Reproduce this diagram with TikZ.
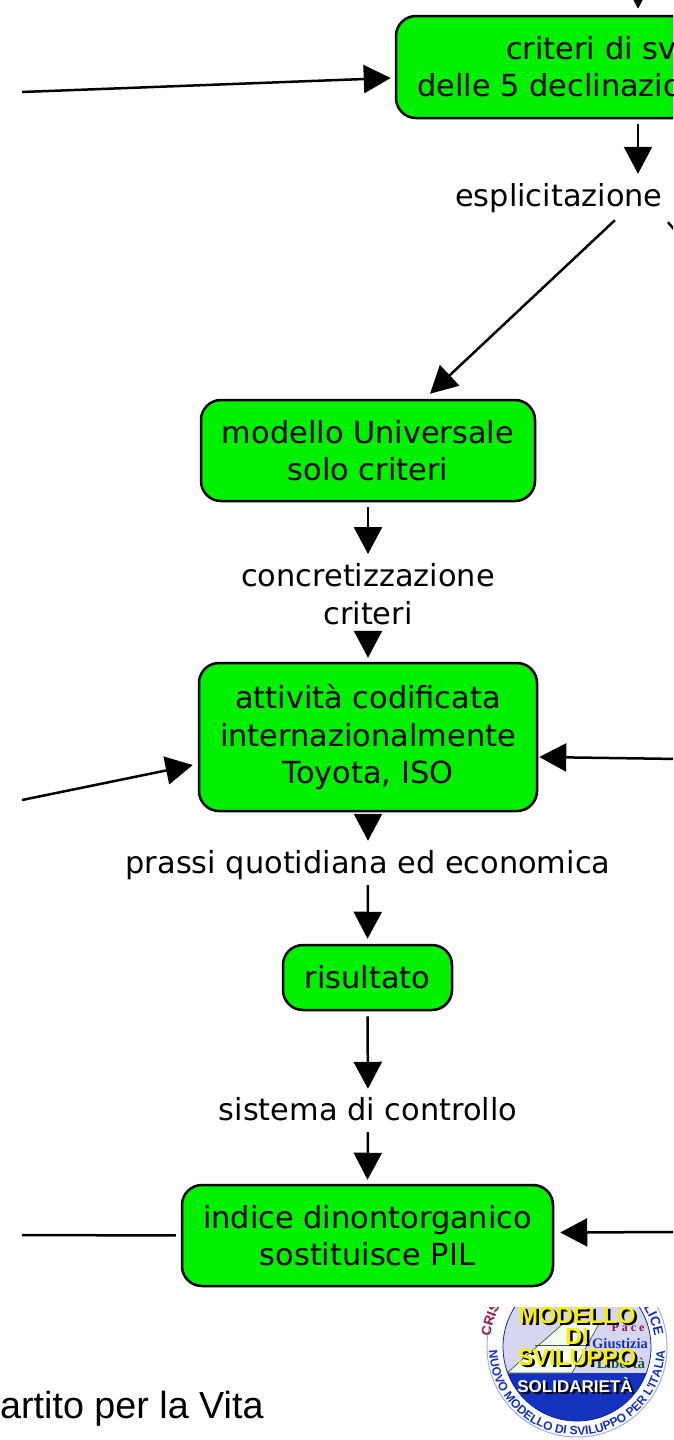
\documentclass[tikz,border=0pt]{standalone}
\usepackage{fontspec}
\setmainfont{DejaVu Sans}
\newfontfamily\arialfont{Liberation Sans}
\newfontfamily\timesfont{Liberation Serif}
\usetikzlibrary{arrows.meta,calc,decorations.text}
\definecolor{boxgreen}{RGB}{0,240,0}
\definecolor{logoblue}{RGB}{20,50,190}
\definecolor{logolav}{RGB}{214,214,240}
\definecolor{logored}{RGB}{150,20,70}
\definecolor{logogreen}{RGB}{30,90,40}
\definecolor{logoyellow}{RGB}{248,240,0}
\newcommand{\ringfnt}{\arialfont\bfseries\fontsize{13.5}{13.5}\selectfont}
\newcommand{\ringfntb}{\arialfont\bfseries\fontsize{12.1}{12.1}\selectfont}
\tikzset{
  greenbox/.style={draw=black,line width=2.5pt,fill=boxgreen,rounded corners=20pt,inner sep=0pt,align=center,font=\fontsize{30.4}{37.5}\selectfont},
  lab/.style={inner sep=0pt,align=center,font=\fontsize{30.4}{38}\selectfont},
  oneline/.style={text height=21pt,text depth=6pt},
  arr/.style={line width=2.5pt,-{Triangle[length=27pt,width=28pt]}},
  plainline/.style={line width=2.5pt},
  logobig/.style={inner sep=0pt,font=\arialfont\bfseries\fontsize{23.4}{23.4}\selectfont}
}
\begin{document}
\begin{tikzpicture}[x=1pt,y=-1pt]
\useasboundingbox (0,0) rectangle (673,1440);
\clip (0,0) rectangle (673,1440);
% free ends
\coordinate (topin) at (638,-30);
\coordinate (l1) at (22,92);
\coordinate (l2) at (22,800);
\coordinate (l3) at (22,1235);
\coordinate (r2) at (680,759);
\coordinate (r3) at (680,1232);
\coordinate (rd) at (680,236);
% boxes
\node[greenbox,minimum width=484pt,minimum height=102pt] (crit) at (638,67) {};
\node[inner sep=0pt,anchor=base west,font=\fontsize{30.4}{38}\selectfont] (critA) at (506,59) {criteri di sv};
\node[inner sep=0pt,anchor=base west,font=\fontsize{30.4}{38}\selectfont] (critB) at (417,96) {delle 5 declinazio};
\node[lab,oneline,anchor=base west] (expl) at (455,206) {esplicitazione};
\node[greenbox,minimum width=334pt,minimum height=101pt] (univ) at (368,450.5) {modello Universale\\solo criteri};
\node[lab,minimum height=56pt] (conc) at (368,594) {concretizzazione\\criteri};
\node[greenbox,minimum width=338pt,minimum height=148pt] (att) at (368,737) {attività codificata\\internazionalmente\\Toyota, ISO};
\node[lab,oneline,anchor=base] (prassi) at (368,873) {prassi quotidiana ed economica};
\node[greenbox,minimum width=169pt,minimum height=65pt] (ris) at (367.5,977.5) {risultato};
\node[lab,oneline,anchor=base] (sist) at (368,1120) {sistema di controllo};
\node[greenbox,minimum width=371pt,minimum height=101pt] (ind) at (367.5,1235.5) {indice dinontorganico\\sostituisce PIL};
\node[inner sep=0pt,anchor=base west,font=\arialfont\fontsize{37.7}{38}\selectfont] (partito) at (0,1418) {artito per la Vita};
% connectors
\draw[arr,shorten >=6pt] (topin) -- (crit.north -| topin);
\draw[arr] (l1) -- ($(crit.west)+(-4,11)$);
\draw[arr] ($(crit.south)+(0,5)$) -- ($(expl.north -| crit.south)+(0,-11)$);
\draw[arr] ($(expl.south)+(56,8)$) -- ($(univ.north)+(62,-5)$);
\draw[plainline] ($(expl.south)+(109,10)$) -- (rd);
\draw[arr,shorten <=5pt,shorten >=9pt] (univ.south) -- (conc.north);
\draw[arr,shorten <=8pt,shorten >=4pt] (conc.south) -- (att.north);
\draw[arr] (l2) -- ($(att.west)+(-5,28)$);
\draw[arr] (r2) -- ($(att.east)+(1,20)$);
\draw[arr,shorten <=4pt,shorten >=11pt] (att.south) -- (prassi.north);
\draw[arr,shorten <=6pt,shorten >=5pt] (prassi.south) -- (ris.north);
\draw[arr,shorten <=5pt,shorten >=10pt] (ris.south) -- (sist.north);
\draw[arr,shorten <=6pt,shorten >=4pt] (sist.south) -- (ind.north);
\draw[plainline,shorten >=5pt] (l3) -- (ind.west);
\draw[arr] (r3) -- ($(ind.east)+(6,-3)$);
% logo
\begin{scope}
\clip (470,1307) rectangle (673,1440);
\fill[white] (577,1347) circle[radius=90pt];
\draw[logoblue!40,line width=1pt] (577,1347) circle[radius=90pt];
\begin{scope}
\clip (577,1347) circle[radius=74pt];
\fill[logolav] (500,1270) rectangle (660,1373);
\fill[logoblue] (500,1373) rectangle (660,1430);
\fill[green!6!white,draw=black!70,line width=.7pt] (507,1373) -- (565,1322) -- (600,1322) -- (572,1373) -- cycle;
\draw[black!70,line width=.7pt] (535,1345) -- (590,1345);
\end{scope}
\draw[logoblue!80!black,line width=.8pt] (577,1347) circle[radius=74pt];
\node[inner sep=0pt,text=logored,font=\timesfont\bfseries\fontsize{12}{12}\selectfont] (pace) at (628,1328) {P a c e};
\node[inner sep=0pt,text=logoblue,font=\timesfont\bfseries\fontsize{14.5}{14.5}\selectfont] (giust) at (620,1344) {Giustizia};
\node[inner sep=0pt,text=logogreen,font=\timesfont\bfseries\fontsize{15}{15}\selectfont] (lib) at (621,1363) {Libertà};
\foreach \t/\yy/\n in {MODELLO/1315/mod,DI/1336/di,SVILUPPO/1357/svi}{
  \node[logobig,text=black] at (579.5,\yy+2.5) {\t};
  \node[logobig,text=logoyellow] (\n) at (577,\yy) {\t};
}
\node[inner sep=0pt,text=black,font=\arialfont\bfseries\fontsize{17}{17}\selectfont] at (577.5,1387.5) {SOLIDARIETÀ};
\node[inner sep=0pt,text=white,font=\arialfont\bfseries\fontsize{17}{17}\selectfont] (sol) at (575,1385) {SOLIDARIETÀ};
\path[decorate,decoration={text along path,text align=center,text={|\ringfntb\color{logoblue}|NUOVO MODELLO DI SVILUPPO PER L'ITALIA}}] (489,1347) arc[start angle=180,end angle=360,radius=88pt];
\path[decorate,decoration={text along path,text align=left,text={|\ringfnt\color{logored}|CRIS}}] (490.6,1336.4) arc[start angle=173,end angle=120,radius=87pt];
\path[decorate,decoration={text align=left,text along path,text={|\ringfnt\color{logoblue}|LICE}}] (643.4,1307.8) arc[start angle=33,end angle=-10,radius=77pt];
\end{scope}
\end{tikzpicture}
\end{document}
